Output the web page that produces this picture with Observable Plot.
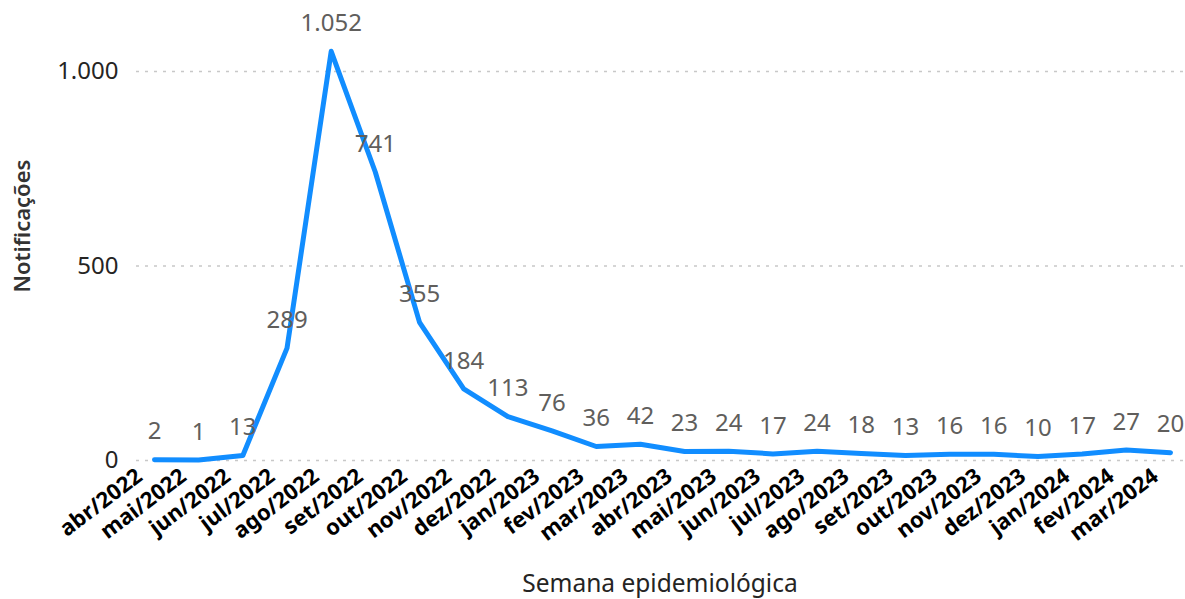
<!DOCTYPE html>
<html>
<head>
<meta charset="utf-8">
<script src="https://cdn.jsdelivr.net/npm/d3@7"></script>
<script src="https://cdn.jsdelivr.net/npm/@observablehq/plot@0.6"></script>
<style>
  body { margin: 0; background: #fff; }
  #chart svg { display: block; }
</style>
</head>
<body>
<div id="chart"></div>
<script>
const months = ["abr/2022","mai/2022","jun/2022","jul/2022","ago/2022","set/2022","out/2022","nov/2022","dez/2022","jan/2023","fev/2023","mar/2023","abr/2023","mai/2023","jun/2023","jul/2023","ago/2023","set/2023","out/2023","nov/2023","dez/2023","jan/2024","fev/2024","mar/2024"];
const notificacoes = [2,1,13,289,1052,741,355,184,113,76,36,42,23,24,17,24,18,13,16,16,10,17,27,20];
const yTicks = [0,500,1000];

const data = months.map((m,i) => ({month: m, value: notificacoes[i]}));
const fmt = d3.formatLocale({decimal: ",", thousands: ".", grouping: [3], currency: ["R$",""]}).format(",");

const chart = Plot.plot({
  width: 1185,
  height: 599,
  marginLeft: 136,
  marginRight: 0,
  marginTop: 40,
  marginBottom: 139,
  style: {fontFamily: "'Noto Sans', sans-serif", background: "#fff"},
  x: {type: "point", domain: months, range: [154, 1170], padding: 0, round: false, label: null},
  y: {domain: [0, 1000], range: [460, 71], label: null},
  marks: [
    Plot.gridY(yTicks, {stroke: "#c8c8c8", strokeOpacity: 1, strokeDasharray: "3,6", strokeWidth: 1.5}),
    Plot.axisY(yTicks, {tickSize: 0, tickPadding: 18, tickFormat: fmt, fontSize: 24, fill: "#252423", label: null}),
    Plot.axisX({tickSize: 0, tickPadding: 13, tickRotate: -37, fontSize: 22, fontWeight: "bold", fill: "#000", label: null, dx: -15}),
    Plot.line(data, {x: "month", y: "value", stroke: "#118DFF", strokeWidth: 5, strokeLinejoin: "round", strokeLinecap: "round"}),
    Plot.text(data, {x: "month", y: "value", text: d => fmt(d.value), dy: -28, fontSize: 24, fill: "#605E5C"})
  ]
});
document.getElementById("chart").appendChild(chart);

const svg = d3.select(chart);
svg.append("text")
  .attr("x", 660).attr("y", 592)
  .attr("text-anchor", "middle")
  .attr("font-size", 24.5).attr("fill", "#252423")
  .attr("font-family", "'Noto Sans', sans-serif")
  .text("Semana epidemiológica");
svg.append("text")
  .attr("transform", "translate(30,226) rotate(-90)")
  .attr("text-anchor", "middle")
  .attr("font-size", 22).attr("font-weight", 600).attr("fill", "#333")
  .attr("font-family", "'Noto Sans', sans-serif")
  .text("Notificações");
</script>
</body>
</html>
